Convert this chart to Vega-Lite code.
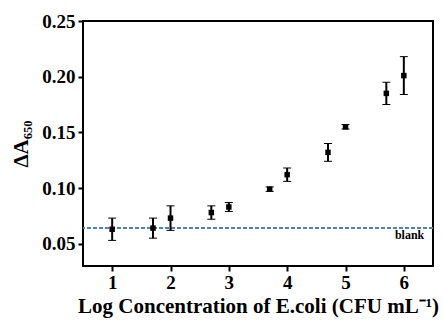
{
  "$schema": "https://vega.github.io/schema/vega-lite/v6.json",
  "width": 350,
  "height": 245,
  "autosize": {"type": "none"},
  "padding": {"left": 83, "top": 21, "right": 10, "bottom": 54},
  "background": "white",
  "config": {
    "view": {"stroke": "black", "strokeWidth": 2},
    "font": "Liberation Serif",
    "axis": {
      "grid": false,
      "domain": false,
      "tickColor": "black",
      "tickWidth": 2,
      "tickSize": 5,
      "labelFont": "Liberation Serif",
      "labelFontWeight": "bold",
      "labelFontSize": 19,
      "labelColor": "black",
      "titleFont": "Liberation Serif",
      "titleFontWeight": "bold",
      "titleFontSize": 21,
      "titleColor": "black"
    }
  },
  "data": {
    "values": [
      {"x": 1, "y": 0.063, "lo": 0.053, "hi": 0.073},
      {"x": 1.7, "y": 0.064, "lo": 0.055, "hi": 0.073},
      {"x": 2, "y": 0.073, "lo": 0.062, "hi": 0.084},
      {"x": 2.7, "y": 0.078, "lo": 0.072, "hi": 0.084},
      {"x": 3, "y": 0.083, "lo": 0.079, "hi": 0.087},
      {"x": 3.7, "y": 0.099, "lo": 0.097, "hi": 0.101},
      {"x": 4, "y": 0.112, "lo": 0.106, "hi": 0.118},
      {"x": 4.7, "y": 0.132, "lo": 0.124, "hi": 0.140},
      {"x": 5, "y": 0.155, "lo": 0.153, "hi": 0.157},
      {"x": 5.7, "y": 0.185, "lo": 0.175, "hi": 0.195},
      {"x": 6, "y": 0.201, "lo": 0.184, "hi": 0.218}
    ]
  },
  "layer": [
    {
      "mark": {"type": "rule", "color": "#4f7fae", "strokeWidth": 1.3, "strokeDash": [4, 2]},
      "encoding": {"y": {"datum": 0.0645, "type": "quantitative"}}
    },
    {
      "mark": {"type": "errorbar", "ticks": {"size": 8, "strokeWidth": 2, "opacity": 1}, "rule": {"strokeWidth": 2, "opacity": 1}},
      "encoding": {
        "x": {"field": "x", "type": "quantitative", "title": "Log Concentration of E.coli (CFU mL⁻¹)"},
        "y": {"field": "lo", "type": "quantitative", "title": "ΔA₆₅₀"},
        "y2": {"field": "hi"},
        "color": {"value": "black"}
      }
    },
    {
      "mark": {"type": "point", "shape": "square", "filled": true, "color": "black", "size": 30, "opacity": 1},
      "encoding": {
        "x": {
          "field": "x", "type": "quantitative",
          "scale": {"domain": [0.5, 6.5], "nice": false, "zero": false},
          "title": "Log Concentration of E.coli (CFU mL⁻¹)",
          "axis": {"values": [1, 2, 3, 4, 5, 6], "format": "d", "labelPadding": 2, "titlePadding": 3}
        },
        "y": {
          "field": "y", "type": "quantitative",
          "scale": {"domain": [0.03, 0.25], "nice": false, "zero": false},
          "title": "ΔA₆₅₀",
          "axis": {"values": [0.05, 0.1, 0.15, 0.2, 0.25], "format": ".2f", "labelPadding": 3, "titlePadding": 10}
        }
      }
    },
    {
      "data": {"values": [{"x": 6.35, "y": 0.058, "t": "blank"}]},
      "mark": {"type": "text", "align": "right", "baseline": "middle", "font": "Liberation Serif", "fontWeight": "bold", "fontSize": 12, "color": "black"},
      "encoding": {
        "x": {"field": "x", "type": "quantitative"},
        "y": {"field": "y", "type": "quantitative"},
        "text": {"field": "t"}
      }
    }
  ]
}
